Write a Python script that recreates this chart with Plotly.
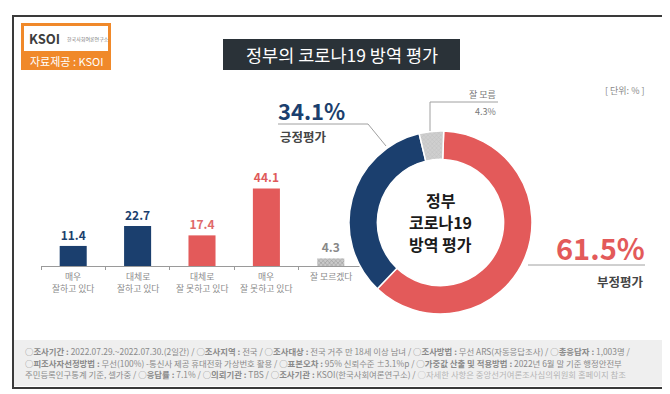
import plotly.graph_objects as go

# ---------------- data ----------------
bar_categories = ["매우<br>잘하고 있다", "대체로<br>잘하고 있다", "대체로<br>잘 못하고 있다",
                  "매우<br>잘 못하고 있다", "잘 모르겠다"]
bar_values = [11.4, 22.7, 17.4, 44.1, 4.3]
bar_labels = ["11.4", "22.7", "17.4", "44.1", "4.3"]

donut_labels = ["부정평가", "긍정평가", "잘 모름"]
donut_values = [61.5, 34.1, 4.3]

title_text = "정부의 코로나19 방역 평가"
center_lines = ["정부", "코로나19", "방역 평가"]
unit_text = "[ 단위: % ]"

footer_lines = [
    "○<b>조사기간 :</b> 2022.07.29.~2022.07.30.(2일간) / ○<b>조사지역 :</b> 전국 / ○<b>조사대상 :</b> 전국 거주 만 18세 이상 남녀 / ○<b>조사방법 :</b> 무선 ARS(자동응답조사) / ○<b>총응답자 :</b> 1,003명 /",
    "○<b>피조사자선정방법 :</b> 무선(100%) -통신사 제공 휴대전화 가상번호 활용 / ○<b>표본오차 :</b> 95% 신뢰수준 ±3.1%p / ○<b>가중값 산출 및 적용방법 :</b> 2022년 6월 말 기준 행정안전부",
    "주민등록인구통계 기준, 셀가중 / ○<b>응답률 :</b> 7.1% / ○<b>의뢰기관 :</b> TBS / ○<b>조사기관 :</b> KSOI(한국사회여론연구소) / <span style='color:#b5b5b5'>○자세한 사항은 중앙선거여론조사심의위원회 홈페이지 참조</span>",
]

# ---------------- styles ----------------
W, H = 670, 394
NAVY = "#1b3f6e"
RED = "#e35a5a"
GREY = "#c9c9c9"
FONT = "Noto Sans CJK KR"

bar_colors = [NAVY, NAVY, RED, RED, GREY]
label_colors = [NAVY, NAVY, "#e06a6a", "#e05a5a", "#888888"]

def px(x):
    return x / W

def py(y):
    return 1 - y / H

fig = go.Figure()

fig.add_trace(go.Bar(
    x=bar_categories, y=bar_values,
    width=0.42,
    marker=dict(color=bar_colors, line=dict(width=0),
                pattern=dict(shape=["", "", "", "", "x"], fgcolor="#9a9a9a",
                             size=3, solidity=0.25, fillmode="overlay")),
    text=bar_labels, textposition="outside", cliponaxis=False,
    textfont=dict(family=FONT, size=12, color=label_colors, weight="bold"),
    showlegend=False, hoverinfo="skip",
))

fig.add_trace(go.Pie(
    labels=donut_labels, values=donut_values,
    sort=False, direction="clockwise", rotation=2,
    hole=0.69, textinfo="none", showlegend=False,
    marker=dict(colors=[RED, NAVY, "#cfcfcf"],
                line=dict(color="white", width=1.5),
                pattern=dict(shape=["", "", "x"], fgcolor="#a8a8a8",
                             size=3, solidity=0.25, fillmode="overlay")),
    domain=dict(x=[px(341), px(524)], y=[py(306), py(123)]),
    hoverinfo="skip",
))

fig.update_layout(
    width=W, height=H,
    margin=dict(l=0, r=0, t=0, b=0),
    paper_bgcolor="white", plot_bgcolor="white",
    font=dict(family=FONT),
    xaxis=dict(domain=[px(33), px(355)], range=[-0.5, 4.5],
               showgrid=False, showline=True, linecolor="#9a9a9a", linewidth=1,
               ticks="outside", tickson="boundaries", ticklen=3, tickcolor="#9a9a9a",
               showticklabels=False,
               fixedrange=True),
    yaxis=dict(domain=[py(258), py(170)], range=[0, 50], visible=False,
               fixedrange=True),
)

shapes = []
# outer frame
shapes.append(dict(type="rect", xref="paper", yref="paper",
                   x0=px(5), x1=px(662), y0=py(380), y1=py(8),
                   line=dict(color="#3a3a3a", width=2), fillcolor="rgba(0,0,0,0)", layer="above"))
# footer box
shapes.append(dict(type="rect", xref="paper", yref="paper",
                   x0=px(6), x1=px(661), y0=py(378), y1=py(332),
                   line=dict(width=0), fillcolor="#efefef", layer="below"))
# logo
shapes.append(dict(type="rect", xref="paper", yref="paper",
                   x0=px(13), x1=px(103), y0=py(62), y1=py(15),
                   line=dict(width=0), fillcolor="#f0892a", layer="below"))
shapes.append(dict(type="rect", xref="paper", yref="paper",
                   x0=px(16), x1=px(100), y0=py(43), y1=py(18),
                   line=dict(width=0), fillcolor="white", layer="below"))
# title box
shapes.append(dict(type="rect", xref="paper", yref="paper",
                   x0=px(215), x1=px(452), y0=py(62), y1=py(31),
                   line=dict(width=0), fillcolor="#2a3238", layer="below"))
# leader lines
LINE = dict(color="#a0a0a0", width=1)
shapes.append(dict(type="path", xref="paper", yref="paper",
                   path=f"M {px(270)} {py(116)} L {px(360)} {py(116)} L {px(378)} {py(138)}",
                   line=LINE))
shapes.append(dict(type="path", xref="paper", yref="paper",
                   path=f"M {px(490)} {py(94)} L {px(422)} {py(94)} L {px(422)} {py(123)}",
                   line=LINE))
shapes.append(dict(type="line", xref="paper", yref="paper",
                   x0=px(520), x1=px(637), y0=py(257), y1=py(257), line=LINE))
fig.update_layout(shapes=shapes)

ann = []
def add(text, x, y, size, color, xanchor="center", yanchor="middle", bold=False, align="center"):
    ann.append(dict(text=f"<b>{text}</b>" if bold else text, x=px(x), y=py(y),
                    xref="paper", yref="paper", showarrow=False,
                    xanchor=xanchor, yanchor=yanchor, align=align,
                    font=dict(family=FONT, size=size, color=color)))

# category labels, one annotation per line, placed on the category axis
for cat in bar_categories:
    for j, part in enumerate(cat.split("<br>")):
        ann.append(dict(text=part, x=cat, xref="x", y=py(268 + j * 12.5), yref="paper",
                        showarrow=False, xanchor="center", yanchor="middle",
                        font=dict(family=FONT, size=8.8, color="#8a8a8a")))

add(title_text, 333.5, 46.5, 17.5, "white")
add("KSOI", 19, 31, 13, "#3d3d3d", xanchor="left", bold=True)
add("한국사회여론연구소", 57, 31, 5, "#777777", xanchor="left")
add("자료제공 : KSOI", 58, 53, 11, "white")
for i, line in enumerate(center_lines):
    add(line, 432.5, 192.5 + i * 21.5, 16, "#1a1a1a", bold=True)
add("34.1%", 268, 102, 22, NAVY, xanchor="left", bold=True)
add("긍정평가", 270, 129, 12.5, "#454545", xanchor="left", bold=True)
add("61.5%", 639, 239, 29, RED, xanchor="right", bold=True)
add("부정평가", 638, 273, 12.5, "#454545", xanchor="right", bold=True)
add("잘 모름", 490, 86, 9, "#777777", xanchor="right")
add("4.3%", 490, 103, 9, "#777777", xanchor="right")
add(unit_text, 638, 82, 9, "#888888", xanchor="right")
for i, line in enumerate(footer_lines):
    add(line, 15, 343 + i * 11.5, 8.4, "#8a8a8a", xanchor="left", align="left")
fig.update_layout(annotations=ann)

fig.write_html("out.html")
